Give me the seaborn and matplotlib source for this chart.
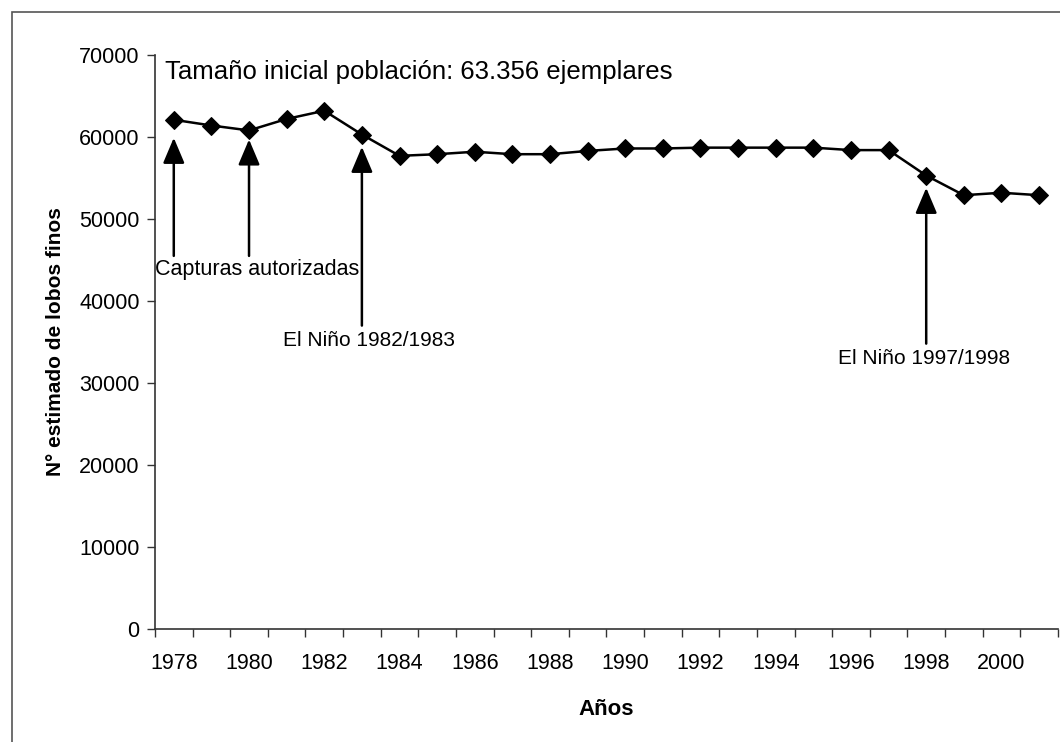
import numpy as np
import pandas as pd
import matplotlib.pyplot as plt
import matplotlib.patches as patches
from matplotlib.ticker import FixedLocator
import seaborn as sns

# Estimated fur seal population by year
YEARS = list(range(1978, 2002))
POBLACION = [62100, 61400, 60800, 62200, 63200, 60300, 57700, 57900,
             58200, 57900, 57900, 58300, 58600, 58600, 58700, 58700,
             58700, 58700, 58400, 58400, 55300, 52900, 53200, 52900]

YTICKS = list(range(0, 70001, 10000))
XTICK_LABELS = list(range(1978, 2001, 2))

TITULO = "Tamaño inicial población: 63.356 ejemplares"

df = pd.DataFrame({"anio": YEARS, "poblacion": POBLACION})

sns.set_theme(style="white")
plt.rcParams["font.family"] = ["Liberation Sans", "DejaVu Sans"]
plt.rcParams["text.color"] = "black"
plt.rcParams["xtick.color"] = "black"
plt.rcParams["ytick.color"] = "black"
plt.rcParams["axes.labelcolor"] = "black"

fig = plt.figure(figsize=(10.6, 7.42), dpi=100)
ax = fig.add_axes([0.1462, 0.1523, 0.998 - 0.1462, 0.9259 - 0.1523])

sns.lineplot(data=df, x="anio", y="poblacion", ax=ax, color="black",
             lw=1.8, marker="D", markersize=9, markeredgecolor="black",
             markerfacecolor="black")

ax.set_xlim(1977.5, 2001.5)
ax.set_ylim(0, 70000)
ax.set_yticks(YTICKS)
ax.set_yticklabels([str(v) for v in YTICKS])
ax.xaxis.set_major_locator(FixedLocator(XTICK_LABELS))
ax.set_xticklabels([str(v) for v in XTICK_LABELS])
ax.xaxis.set_minor_locator(FixedLocator(np.arange(1977.5, 2002, 1)))

ax.tick_params(axis="x", which="major", length=0, pad=17, labelsize=15.5)
ax.tick_params(axis="x", which="minor", length=6, width=1, direction="out",
               color="#333333", bottom=True)
ax.tick_params(axis="y", length=6, width=1, direction="out", color="#333333",
               left=True, pad=5, labelsize=15.5)

for side in ["top", "right"]:
    ax.spines[side].set_visible(False)
for side in ["left", "bottom"]:
    ax.spines[side].set_color("#333333")
    ax.spines[side].set_linewidth(1.2)

ax.set_xlabel("Años", fontsize=16, fontweight="bold", labelpad=18)
ax.set_ylabel("N° estimado de lobos finos", fontsize=15, fontweight="bold",
              labelpad=10)

ax.text(1977.77, 67900, TITULO, fontsize=18.5, ha="left", va="center")

# arrows: (year, tip, tail)
flechas = [(1978, 59900, 45500), (1980, 59700, 45500),
           (1983, 58800, 37000), (1998, 53800, 34800)]
for anio, tip, tail in flechas:
    ax.annotate("", xy=(anio, tip), xytext=(anio, tail),
                arrowprops=dict(arrowstyle="-|>,head_width=0.55,head_length=1.3",
                                lw=1.8, color="black", shrinkA=0, shrinkB=0))

ax.text(1977.5, 43900, "Capturas autorizadas", fontsize=15.5, ha="left", va="center")
ax.text(1980.9, 35200, "El Niño 1982/1983", fontsize=15, ha="left", va="center")
ax.text(1995.66, 33000, "El Niño 1997/1998", fontsize=15, ha="left", va="center")

# outer chart-area border
fig.patches.append(patches.Rectangle((0.0113, -0.05), 1.05, 0.984 + 0.05,
                                     transform=fig.transFigure, fill=False,
                                     edgecolor="#555555", lw=1.2))

fig.savefig("out.png", dpi=100)
